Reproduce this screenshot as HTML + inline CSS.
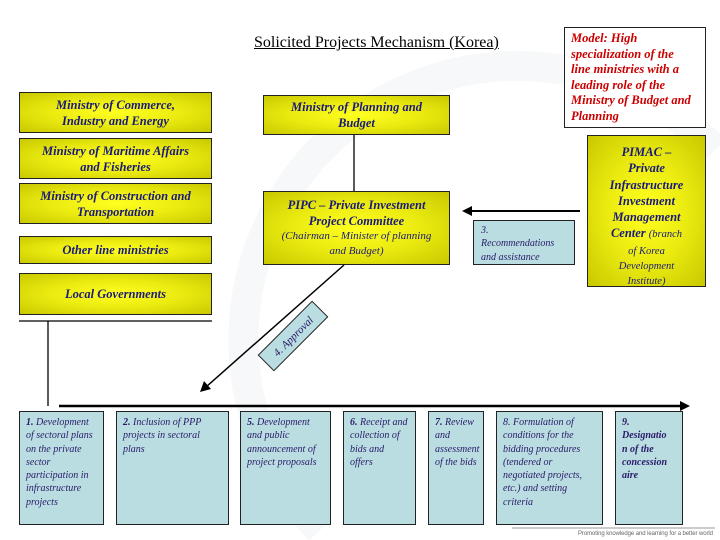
<!DOCTYPE html>
<html style="width:720px;height:540px;overflow:hidden;margin:0"><head><meta charset="utf-8"><style>
body{margin:0;width:720px;height:540px;background:#fff;position:relative;overflow:hidden;font-family:"Liberation Serif",serif;}
.b{position:absolute;box-sizing:border-box;border:1.3px solid #222;text-align:center;color:#1a1a7a;font-weight:bold;font-style:italic;font-size:12.5px;line-height:16px;}
.y{background:radial-gradient(ellipse at center,#ffff20 0%,#eaea10 50%,#c8c800 100%);display:flex;align-items:center;justify-content:center;flex-direction:column;}
.c{background:#b9dde0;text-align:left;font-size:10px;line-height:13.3px;padding:4px 6px;color:#2a1a6a;overflow:hidden;}
.n{font-weight:normal;}
</style></head><body>
<svg style="position:absolute;left:0;top:0;display:block" width="720" height="540">
<path d="M320 530 A250 250 0 0 1 715 150" fill="none" stroke="#f7f8f9" stroke-width="30"/>
<line x1="354" y1="135" x2="354" y2="191" stroke="#000" stroke-width="1.3"/>
<line x1="19" y1="321" x2="212" y2="321" stroke="#000" stroke-width="1.3"/>
<line x1="48" y1="321" x2="48" y2="406" stroke="#000" stroke-width="1.3"/>
<line x1="59" y1="406" x2="682" y2="406" stroke="#000" stroke-width="2.5"/>
<polygon points="690,406 680,401 680,411" fill="#000"/>
<line x1="344" y1="265" x2="206" y2="387" stroke="#000" stroke-width="1.5"/>
<polygon points="200,392 204,381 211,389" fill="#000"/>
<line x1="580" y1="211" x2="470" y2="211" stroke="#000" stroke-width="2"/>
<polygon points="462,211 472,206 472,216" fill="#000"/>
<g transform="translate(293,336) rotate(-45)">
<rect x="-38" y="-11" width="76" height="22" fill="#b9dde0" stroke="#222"/>
<text x="0" y="4" text-anchor="middle" font-family="Liberation Serif" font-style="italic" font-size="11" fill="#2a1a6a">4. Approval</text>
</g>
<text x="556" y="522" font-family="Liberation Sans" font-size="12" fill="#888" letter-spacing="8">N I&#160;&#160;&#160;&#160;&#160;&#160;&#160;&#160;&#160;&#160;&#160;U T E</text>
<line x1="512" y1="528" x2="715" y2="528" stroke="#999"/>
<text x="578" y="535" font-family="Liberation Sans" font-size="6" fill="#666" textLength="135">Promoting knowledge and learning for a better world</text>
</svg>
<div style="position:absolute;left:254px;top:34px;font-size:16px;text-decoration:underline;">Solicited Projects Mechanism (Korea)</div>
<div class="b" style="left:564px;top:27px;width:142px;height:101px;background:#fff;color:#cc0000;text-align:left;font-size:12.5px;line-height:15.5px;padding:3px 4px 3px 6px;">Model: High<br>specialization of the<br>line ministries with a<br>leading role of the<br>Ministry of Budget and<br>Planning</div>
<div class="b y" style="left:19px;top:92px;width:193px;height:41px;">Ministry of Commerce,<br>Industry and Energy</div>
<div class="b y" style="left:19px;top:138px;width:193px;height:41px;">Ministry of Maritime Affairs<br>and Fisheries</div>
<div class="b y" style="left:19px;top:183px;width:193px;height:41px;">Ministry of Construction and<br>Transportation</div>
<div class="b y" style="left:19px;top:236px;width:193px;height:28px;">Other line ministries</div>
<div class="b y" style="left:19px;top:273px;width:193px;height:42px;">Local Governments</div>
<div class="b y" style="left:263px;top:95px;width:187px;height:40px;">Ministry of Planning and<br>Budget</div>
<div class="b y" style="left:263px;top:191px;width:187px;height:74px;">PIPC – Private Investment<br>Project Committee<span class="n" style="font-size:11px;line-height:15px;">(Chairman – Minister of planning<br>and Budget)</span></div>
<div class="b y" style="left:587px;top:135px;width:119px;height:152px;font-size:12.5px;line-height:16.3px;display:block;padding-top:8px;overflow:hidden;">PIMAC –<br>Private<br>Infrastructure<br>Investment<br>Management<br>Center <span class="n" style="font-size:10.5px">(branch</span><div class="n" style="font-size:10.5px;line-height:15px;">of Korea<br>Development<br>Institute)</div></div>
<div class="b c n" style="left:473px;top:220px;width:102px;height:45px;padding:3px 7px;">3.<br>Recommendations and assistance</div>
<div class="b c" style="left:19px;top:411px;width:85px;height:114px;"><b>1.</b> <span class="n">Development of sectoral plans on the private sector participation in infrastructure projects</span></div>
<div class="b c" style="left:116px;top:411px;width:113px;height:114px;">2. <span class="n">Inclusion of PPP projects in sectoral plans</span></div>
<div class="b c" style="left:240px;top:411px;width:91px;height:114px;">5. <span class="n">Development and public announcement of project proposals</span></div>
<div class="b c" style="left:343px;top:411px;width:73px;height:114px;">6. <span class="n">Receipt and collection of bids and offers</span></div>
<div class="b c" style="left:428px;top:411px;width:56px;height:114px;">7. <span class="n">Review and assessment of the bids</span></div>
<div class="b c n" style="left:496px;top:411px;width:107px;height:114px;">8. Formulation of conditions for the bidding procedures (tendered or negotiated projects, etc.) and setting criteria</div>
<div class="b c" style="left:615px;top:411px;width:68px;height:114px;">9.<br>Designatio<br>n of the<br>concession<br>aire</div>
</body></html>
